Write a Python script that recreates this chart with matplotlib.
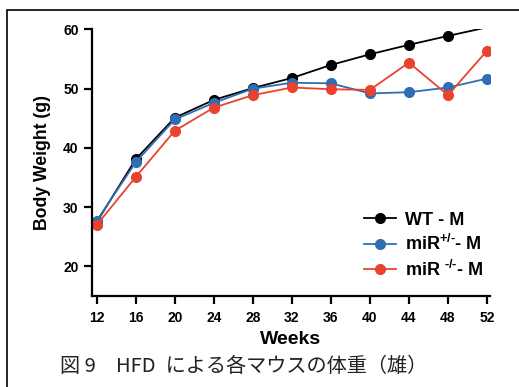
import matplotlib
matplotlib.use("Agg")
import matplotlib.pyplot as plt
from matplotlib.patches import Rectangle

# poids moyens
weeks = [12, 16, 20, 24, 28, 32, 36, 40, 44, 48, 52]
wt_m = [27.5, 38.1, 45.1, 48.1, 50.1, 51.8, 54.0, 55.8, 57.4, 58.9, 60.35]
het_m = [27.7, 37.6, 44.8, 47.6, 50.0, 51.0, 50.9, 49.2, 49.4, 50.2, 51.7]
ko_m = [27.0, 35.1, 42.9, 46.8, 48.9, 50.2, 49.9, 49.8, 54.4, 48.9, 56.4]
labels = ["WT - M", r"miR$^{\text{+/-}}$- M", r"miR $^{\text{-/-}}$- M"]
caption = "図 9\u3000HFD\u2002による各マウスの体重（雄）"

plt.rcParams["font.family"] = ["Liberation Sans", "DejaVu Sans"]
plt.rcParams["mathtext.fontset"] = "custom"
plt.rcParams["mathtext.rm"] = "Liberation Sans:bold"
plt.rcParams["mathtext.it"] = "Liberation Sans:bold"
plt.rcParams["mathtext.bf"] = "Liberation Sans:bold"

fig = plt.figure(figsize=(5.19, 3.87), dpi=100)
ax = fig.add_axes([0.177, 0.235, 0.767, 0.689])

ax.plot(weeks, wt_m, color="black", lw=1.3, marker="o", ms=7,
        markevery=slice(0, 10), label=labels[0])
ax.plot(weeks, het_m, color="#2f6db5", lw=1.3, marker="o", ms=7,
        label=labels[1])
ax.plot(weeks, ko_m, color="#e9432f", lw=1.3, marker="o", ms=7,
        label=labels[2])

ax.set_xlim(11.5, 52.3)
ax.set_ylim(15, 60)
ax.set_xticks(weeks)
ax.set_yticks([20, 30, 40, 50, 60])
for s in ["top", "right"]:
    ax.spines[s].set_visible(False)
for s in ["left", "bottom"]:
    ax.spines[s].set_linewidth(1.6)
ax.tick_params(width=1.6, length=5.5, labelsize=10, pad=4)
ax.tick_params(axis="x", pad=5.5)
for t in ax.get_xticklabels() + ax.get_yticklabels():
    t.set_fontweight("bold")

ax.set_xlabel("Weeks", fontsize=14, fontweight="bold", labelpad=4)
ax.set_ylabel("Body Weight (g)", fontsize=12.7, fontweight="bold", labelpad=9)

leg = ax.legend(loc="lower right", bbox_to_anchor=(1.025, 0.0), frameon=False,
                prop={"size": 13, "weight": "bold"}, handlelength=1.8,
                labelspacing=0.3, handletextpad=0.5)

# cadre autour de la figure
fig.patches.append(Rectangle((7 / 519, -0.1), 1.2, 1 - 10 / 387 + 0.1,
                             transform=fig.transFigure, fill=False,
                             edgecolor="black", lw=1.2))

fig.text(60 / 519, 1 - 366 / 387, caption, fontsize=14.5, va="center",
         family=["Noto Sans CJK JP", "DejaVu Sans"], color="#222222")

fig.savefig("out.png", dpi=100)
